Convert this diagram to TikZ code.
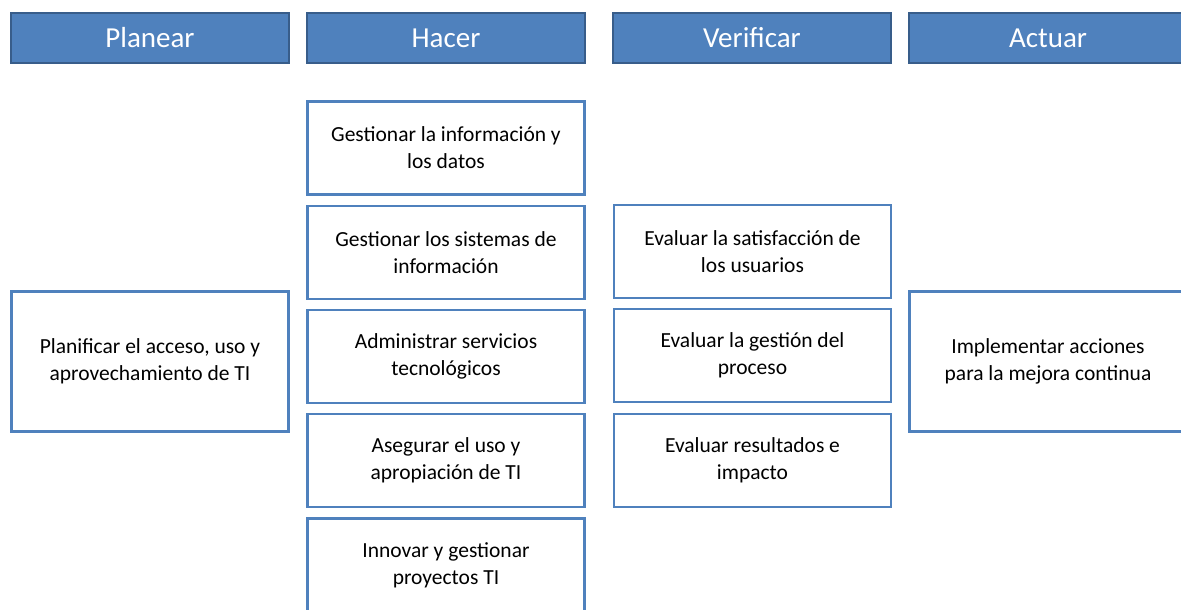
\documentclass[tikz,border=0pt]{standalone}
\usepackage{fontspec}
\setmainfont{Carlito}
\usepackage{xcolor}
\usepackage{tikz}
\definecolor{pdcablue}{HTML}{4F81BD}
\definecolor{pdcaedge}{HTML}{385D8A}

\begin{document}
\begin{tikzpicture}[x=1pt, y=-1pt,
    headbox/.style={rectangle, fill=pdcablue, draw=pdcaedge, line width=2.5pt, text=white,
      minimum width=278pt, minimum height=50pt, font=\fontsize{29}{35}\selectfont},
    stepbox/.style={rectangle, fill=white, draw=pdcablue, line width=2.5pt, align=center,
      minimum width=277pt, minimum height=93pt, font=\fontsize{21.5}{27}\selectfont}]
  \useasboundingbox (0,0) rectangle (1181,610);
  \clip (0,0) rectangle (1181,610);

  \node[headbox] (planear) at (150,38) {Planear};
  \node[headbox] (hacer) at (446,38) {Hacer};
  \node[headbox] (verificar) at (752,38) {Verificar};
  \node[headbox] (actuar) at (1048,38) {Actuar};

  \node[stepbox, minimum height=140pt] (planificar) at (150,361.5) {Planificar el acceso, uso y\\aprovechamiento de TI};

  \node[stepbox] (datos) at (446,148) {Gestionar la información y\\los datos};
  \node[stepbox] (sistemas) at (446,252.5) {Gestionar los sistemas de\\información};
  \node[stepbox] (servicios) at (446,356.5) {Administrar servicios\\tecnológicos};
  \node[stepbox] (apropiacion) at (446,460.5) {Asegurar el uso y\\apropiación de TI};
  \node[stepbox] (proyectos) at (446,565) {Innovar y gestionar\\proyectos TI};

  \node[stepbox] (satisfaccion) at (752.5,251.5) {Evaluar la satisfacción de\\los usuarios};
  \node[stepbox] (gestion) at (752.5,355.5) {Evaluar la gestión del\\proceso};
  \node[stepbox] (impacto) at (752.5,460.5) {Evaluar resultados e\\impacto};

  \node[stepbox, minimum height=140pt] (mejora) at (1048,361.5) {Implementar acciones\\para la mejora continua};
\end{tikzpicture}
\end{document}
